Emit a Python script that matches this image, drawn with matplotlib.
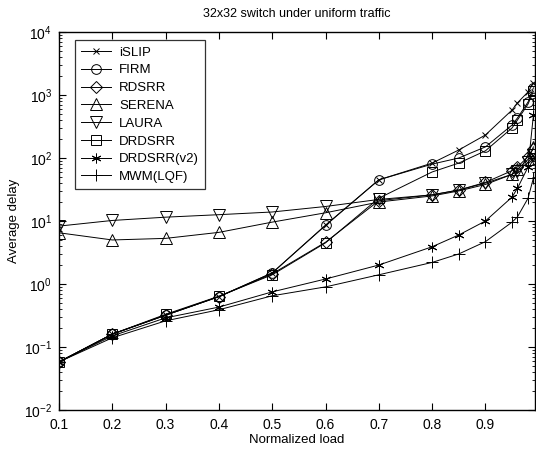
import matplotlib
matplotlib.use('Agg')
import matplotlib.pyplot as plt
from matplotlib.ticker import LogLocator, NullFormatter

plt.rcParams['font.family'] = ['Liberation Sans', 'DejaVu Sans']

load = [0.1, 0.2, 0.3, 0.4, 0.5, 0.6, 0.7, 0.8, 0.85, 0.9, 0.95, 0.96, 0.98, 0.99]

islip   = [0.058, 0.16, 0.32, 0.63, 1.5, 8.5, 45, 83, 134, 232, 578, 750, 1120, 1550]
firm    = [0.058, 0.16, 0.32, 0.63, 1.5, 8.6, 45, 80, 100, 150, 334, 431, 774, 1300]
rdsrr   = [0.058, 0.16, 0.32, 0.63, 1.45, 4.6, 21, 26, 31, 41, 63, 72, 105, 140]
serena  = [6.5, 5.0, 5.3, 6.6, 9.6, 13.5, 20, 25, 30, 38, 55, 66, 95, 150]
laura   = [8.3, 10.2, 11.5, 12.6, 13.9, 17, 22, 26, 31, 40, 55, 62, 85, 110]
drdsrr  = [0.058, 0.16, 0.33, 0.64, 1.4, 4.5, 23, 60, 83, 130, 300, 400, 720, 1150]
drdsrr2 = [0.058, 0.15, 0.29, 0.43, 0.75, 1.2, 2.0, 3.9, 6.0, 10, 24, 33, 72, 480]
mwm     = [0.058, 0.14, 0.26, 0.39, 0.65, 0.9, 1.4, 2.2, 3.0, 4.7, 9.6, 11.6, 23, 48]

# asterisk marker: 6 spokes like the classic '*' symbol
asterisk = (6, 2, 0)

series = [
    ('iSLIP', islip, 'x', 5),
    ('FIRM', firm, 'o', 7),
    ('RDSRR', rdsrr, 'D', 6),
    ('SERENA', serena, '^', 8),
    ('LAURA', laura, 'v', 8),
    ('DRDSRR', drdsrr, 's', 7),
    ('DRDSRR(v2)', drdsrr2, asterisk, 7),
    ('MWM(LQF)', mwm, '+', 9),
]

fig = plt.figure(figsize=(5.36, 4.49), dpi=100)
ax = fig.add_axes([59/536, 1-410/449, 476/536, 378/449])

for name, vals, mk, ms in series:
    ax.semilogy(load, vals, '-k', linewidth=0.7, marker=mk, markersize=ms,
                markerfacecolor='none', markeredgecolor='k', markeredgewidth=0.7,
                label=name)

ax.set_xlim(0.1, 0.993)
ax.set_ylim(1e-2, 1e4)
ax.set_xticks([0.1, 0.2, 0.3, 0.4, 0.5, 0.6, 0.7, 0.8, 0.9])
ax.yaxis.set_major_locator(LogLocator(base=10, numticks=10))
ax.yaxis.set_minor_locator(LogLocator(base=10, subs=range(2, 10), numticks=10))
ax.yaxis.set_minor_formatter(NullFormatter())
ax.tick_params(axis='both', which='both', direction='in', top=True, right=True,
               labelsize=10)
ax.tick_params(axis='x', pad=6)
ax.tick_params(axis='y', pad=5)
ax.tick_params(which='major', length=5)
ax.tick_params(which='minor', length=2.5)
for sp in ax.spines.values():
    sp.set_linewidth(1.0)

ax.set_xlabel('Normalized load', fontsize=9.5, labelpad=1)
ax.set_ylabel('Average delay', fontsize=9.5, labelpad=3)
ax.set_title('32x32 switch under uniform traffic', fontsize=9, pad=11)

leg = ax.legend(loc='upper left', bbox_to_anchor=(0.02, 0.995), fontsize=9.5,
                frameon=True, fancybox=False, edgecolor='k', handlelength=2.3,
                labelspacing=0.42, borderpad=0.45, handletextpad=0.6)
leg.get_frame().set_linewidth(0.9)

fig.savefig('out.png', dpi=100)
